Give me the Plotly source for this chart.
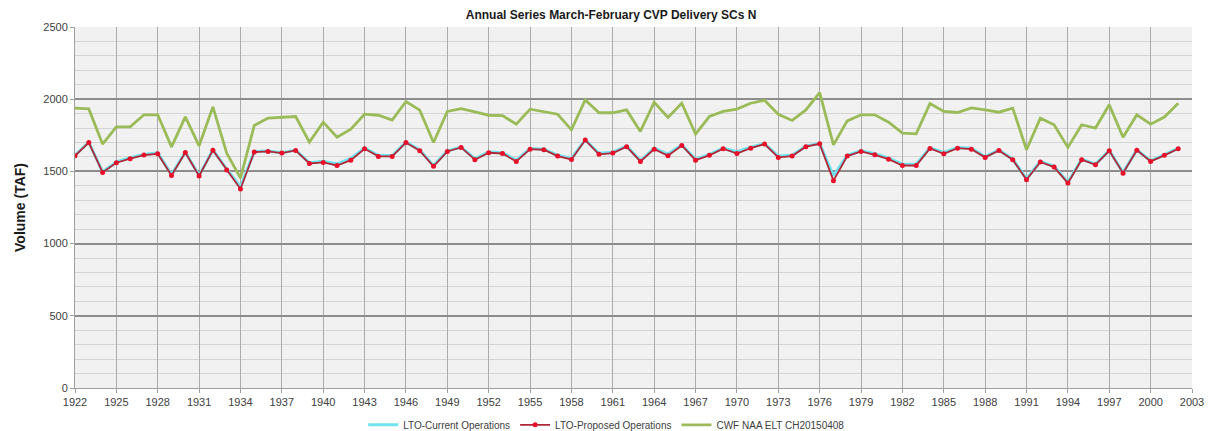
import plotly.graph_objects as go

years = list(range(1922, 2003))

cwf_naa = [1938, 1933, 1689, 1809, 1809, 1892, 1892, 1670, 1878, 1677,
           1947, 1627, 1454, 1818, 1869, 1876, 1880, 1703, 1841, 1737,
           1793, 1896, 1889, 1855, 1984, 1924, 1700, 1915, 1935, 1912,
           1889, 1887, 1827, 1931, 1915, 1896, 1788, 1995, 1906, 1906,
           1926, 1777, 1979, 1873, 1972, 1758, 1880, 1915, 1931, 1972,
           1993, 1896, 1853, 1926, 2045, 1684, 1850, 1892, 1892, 1841,
           1765, 1760, 1970, 1915, 1908, 1940, 1926, 1910, 1938, 1650,
           1869, 1823, 1666, 1823, 1800, 1961, 1737, 1892, 1827, 1876,
           1972]

lto_proposed = [1608, 1700, 1493, 1560, 1588, 1613, 1622, 1472, 1631, 1468,
                1647, 1509, 1378, 1634, 1638, 1627, 1645, 1555, 1562, 1541,
                1578, 1657, 1604, 1604, 1700, 1643, 1535, 1638, 1666, 1581,
                1629, 1624, 1569, 1654, 1650, 1606, 1583, 1717, 1618, 1627,
                1671, 1569, 1654, 1608, 1680, 1578, 1611, 1657, 1624, 1661,
                1689, 1597, 1606, 1671, 1691, 1436, 1606, 1638, 1615, 1585,
                1541, 1541, 1659, 1622, 1661, 1654, 1597, 1645, 1581, 1442,
                1565, 1530, 1419, 1581, 1546, 1643, 1488, 1647, 1569, 1611,
                1657]

lto_current = [1612, 1702, 1497, 1566, 1595, 1618, 1628, 1478, 1634, 1472,
               1650, 1515, 1392, 1638, 1642, 1630, 1648, 1560, 1570, 1552,
               1590, 1662, 1612, 1610, 1702, 1648, 1540, 1642, 1668, 1588,
               1634, 1630, 1578, 1658, 1653, 1612, 1590, 1718, 1625, 1633,
               1675, 1575, 1660, 1620, 1684, 1585, 1618, 1662, 1636, 1668,
               1692, 1606, 1612, 1675, 1694, 1470, 1612, 1643, 1622, 1592,
               1550, 1550, 1664, 1632, 1666, 1660, 1602, 1648, 1585, 1448,
               1570, 1535, 1425, 1586, 1550, 1646, 1492, 1650, 1573, 1614,
               1659]

x_ticks = list(range(1922, 2004, 3))
y_ticks = [0, 500, 1000, 1500, 2000, 2500]

fig = go.Figure()
fig.add_trace(go.Scatter(
    x=years, y=lto_current, name="LTO-Current Operations", mode="lines",
    line=dict(color="#6FE3EE", width=3)))
fig.add_trace(go.Scatter(
    x=years, y=lto_proposed, name="LTO-Proposed Operations", mode="lines+markers",
    line=dict(color="#B02838", width=1.8),
    marker=dict(color="#E8102A", size=5)))
fig.add_trace(go.Scatter(
    x=years, y=cwf_naa, name="CWF NAA ELT CH20150408", mode="lines",
    line=dict(color="#9BBB59", width=2.8)))

font_family = "Liberation Sans, Arial, sans-serif"
fig.update_layout(
    width=1210, height=431,
    margin=dict(l=75, r=18, t=27, b=43, autoexpand=False),
    paper_bgcolor="white",
    plot_bgcolor="#F1F1F1",
    font=dict(family=font_family, color="#404040", size=11),
    title=dict(text="<b>Annual Series March-February CVP Delivery SCs N</b>",
               x=0.505, xanchor="center", y=1 - 15 / 431, yanchor="middle",
               font=dict(size=12, color="#1a1a1a", family=font_family)),
    showlegend=True,
    legend=dict(orientation="h", x=0.476, xanchor="center", y=-0.102, yanchor="middle",
                font=dict(size=10, color="#404040"), itemwidth=30,
                bgcolor="rgba(0,0,0,0)"),
    xaxis=dict(range=[1922, 2003], tickmode="array", tickvals=x_ticks,
               ticktext=[str(t) for t in x_ticks], automargin=False,
               showgrid=True, gridcolor="#ABABAB", gridwidth=1,
               showline=True, linecolor="#A0A0A0", linewidth=1,
               ticks="outside", ticklen=4, tickcolor="#A0A0A0",
               zeroline=False, tickfont=dict(size=11, color="#404040")),
    yaxis=dict(range=[0, 2500], tickmode="array", tickvals=y_ticks, automargin=False,
               showgrid=True, gridcolor="#8C8C8C", gridwidth=1.5,
               minor=dict(dtick=100, showgrid=True, gridcolor="#D4D4D4", gridwidth=1),
               showline=True, linecolor="#A0A0A0", linewidth=1,
               ticks="outside", ticklen=4, tickcolor="#A0A0A0",
               zeroline=False, tickfont=dict(size=11, color="#404040"),
               title=dict(text="<b>Volume (TAF)</b>", standoff=14,
                          font=dict(size=14, color="#1a1a1a"))),
)

fig.write_html("out.html",
               config={"displayModeBar": False},
               post_script="document.body.style.margin='0px';"
                           "document.body.style.overflow='hidden';")
